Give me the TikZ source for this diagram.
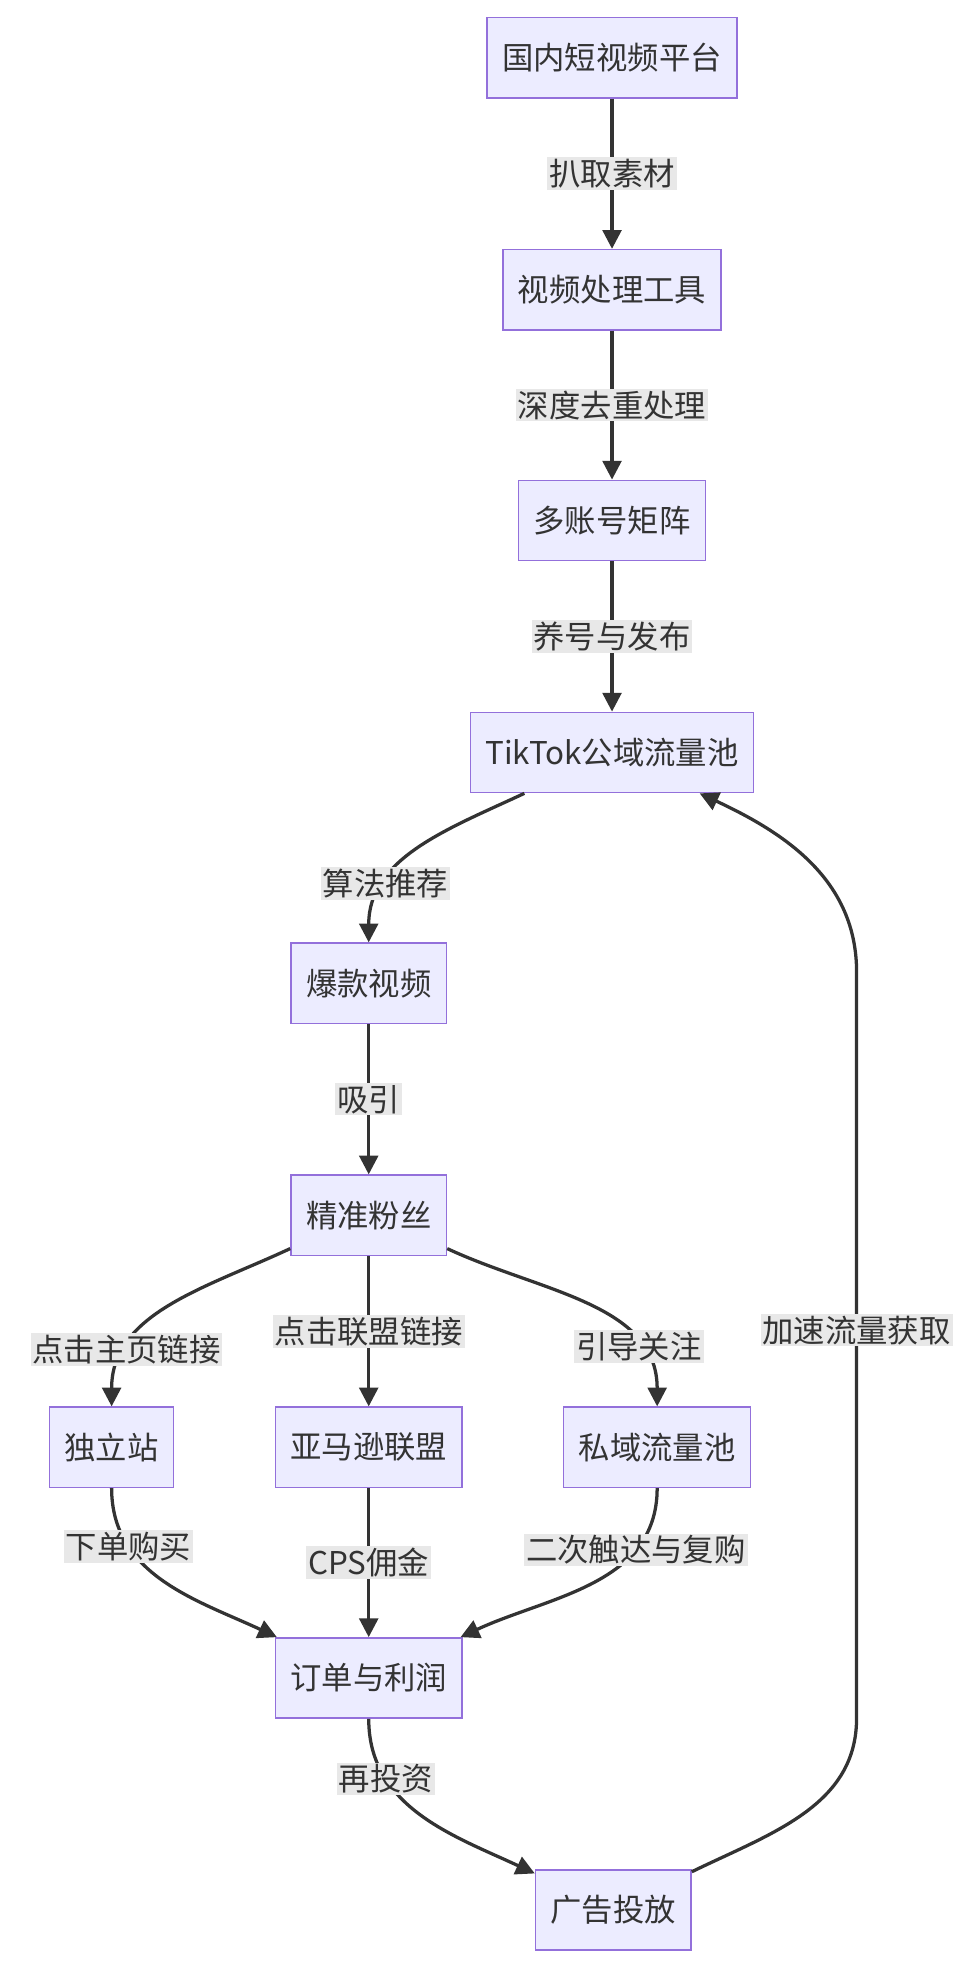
\documentclass[tikz,border=0pt]{standalone}
\usepackage{fontspec}
\setmainfont{Noto Sans CJK SC}
\usetikzlibrary{arrows.meta}
\definecolor{boxfill}{HTML}{ECECFF}
\definecolor{boxline}{HTML}{9370DB}
\definecolor{flow}{HTML}{333333}
\definecolor{lblbg}{HTML}{E8E8E8}

\tikzset{
  box/.style={draw=boxline, fill=boxfill, line width=1.2pt, minimum height=64pt, inner xsep=12pt, text=flow},
  lbl/.style={fill=lblbg, inner sep=1.5pt, text=flow},
  flowline/.style={draw=flow, line width=2.6pt, -{Triangle[length=15pt,width=15pt]}}
}

\begin{document}
\begin{tikzpicture}[x=1pt, y=-1pt, font=\fontsize{25}{29}\selectfont]

\useasboundingbox (0,0) rectangle (775,1574);

%nodes
\node[box] at (488, 46)(pf){国内短视频平台};
\node[box] at (488, 231)(tool){视频处理工具};
\node[box] at (488, 415)(acc){多账号矩阵};
\node[box] at (488, 600)(pool){TikTok公域流量池};
\node[box] at (294, 784)(hit){爆款视频};
\node[box] at (294, 969)(fans){精准粉丝};
\node[box] at (89, 1154)(site){独立站};
\node[box] at (294, 1154)(amz){亚马逊联盟};
\node[box] at (524, 1154)(priv){私域流量池};
\node[box] at (294, 1338)(prof){订单与利润};
\node[box] at (489, 1523)(ads){广告投放};

%loop corners
\coordinate (lb) at (683, 1370);
\coordinate (lt) at (683, 775);

%connectors
\draw[flowline] (pf) -- node[lbl]{扒取素材} (tool);
\draw[flowline] (tool) -- node[lbl]{深度去重处理} (acc);
\draw[flowline] (acc) -- node[lbl]{养号与发布} (pool);
\draw[flowline] (pool.205) to[out=205, in=90] node[lbl, pos=0.72]{算法推荐} (hit.north);
\draw[flowline] (hit) -- node[lbl]{吸引} (fans);
\draw[flowline] (fans.203) to[out=205, in=90] node[lbl, pos=0.76]{点击主页链接} (site.north);
\draw[flowline] (fans) -- node[lbl]{点击联盟链接} (amz);
\draw[flowline] (fans.337) to[out=-25, in=90] node[lbl, pos=0.76]{引导关注} (priv.north);
\draw[flowline] (site.south) to[out=-90, in=155] node[lbl, pos=0.27]{下单购买} (prof.156);
\draw[flowline] (amz) -- node[lbl]{CPS佣金} (prof);
\draw[flowline] (priv.south) to[out=-90, in=25] node[lbl, pos=0.27]{二次触达与复购} (prof.24);
\draw[flowline] (prof.south) to[out=-90, in=155] node[lbl, pos=0.27]{再投资} (ads.155);
\draw[flowline] (ads.26) to[out=26, in=-90] (lb) -- node[lbl, pos=0.52]{加速流量获取} (lt) to[out=90, in=-25] (pool.335);

\end{tikzpicture}
\end{document}
